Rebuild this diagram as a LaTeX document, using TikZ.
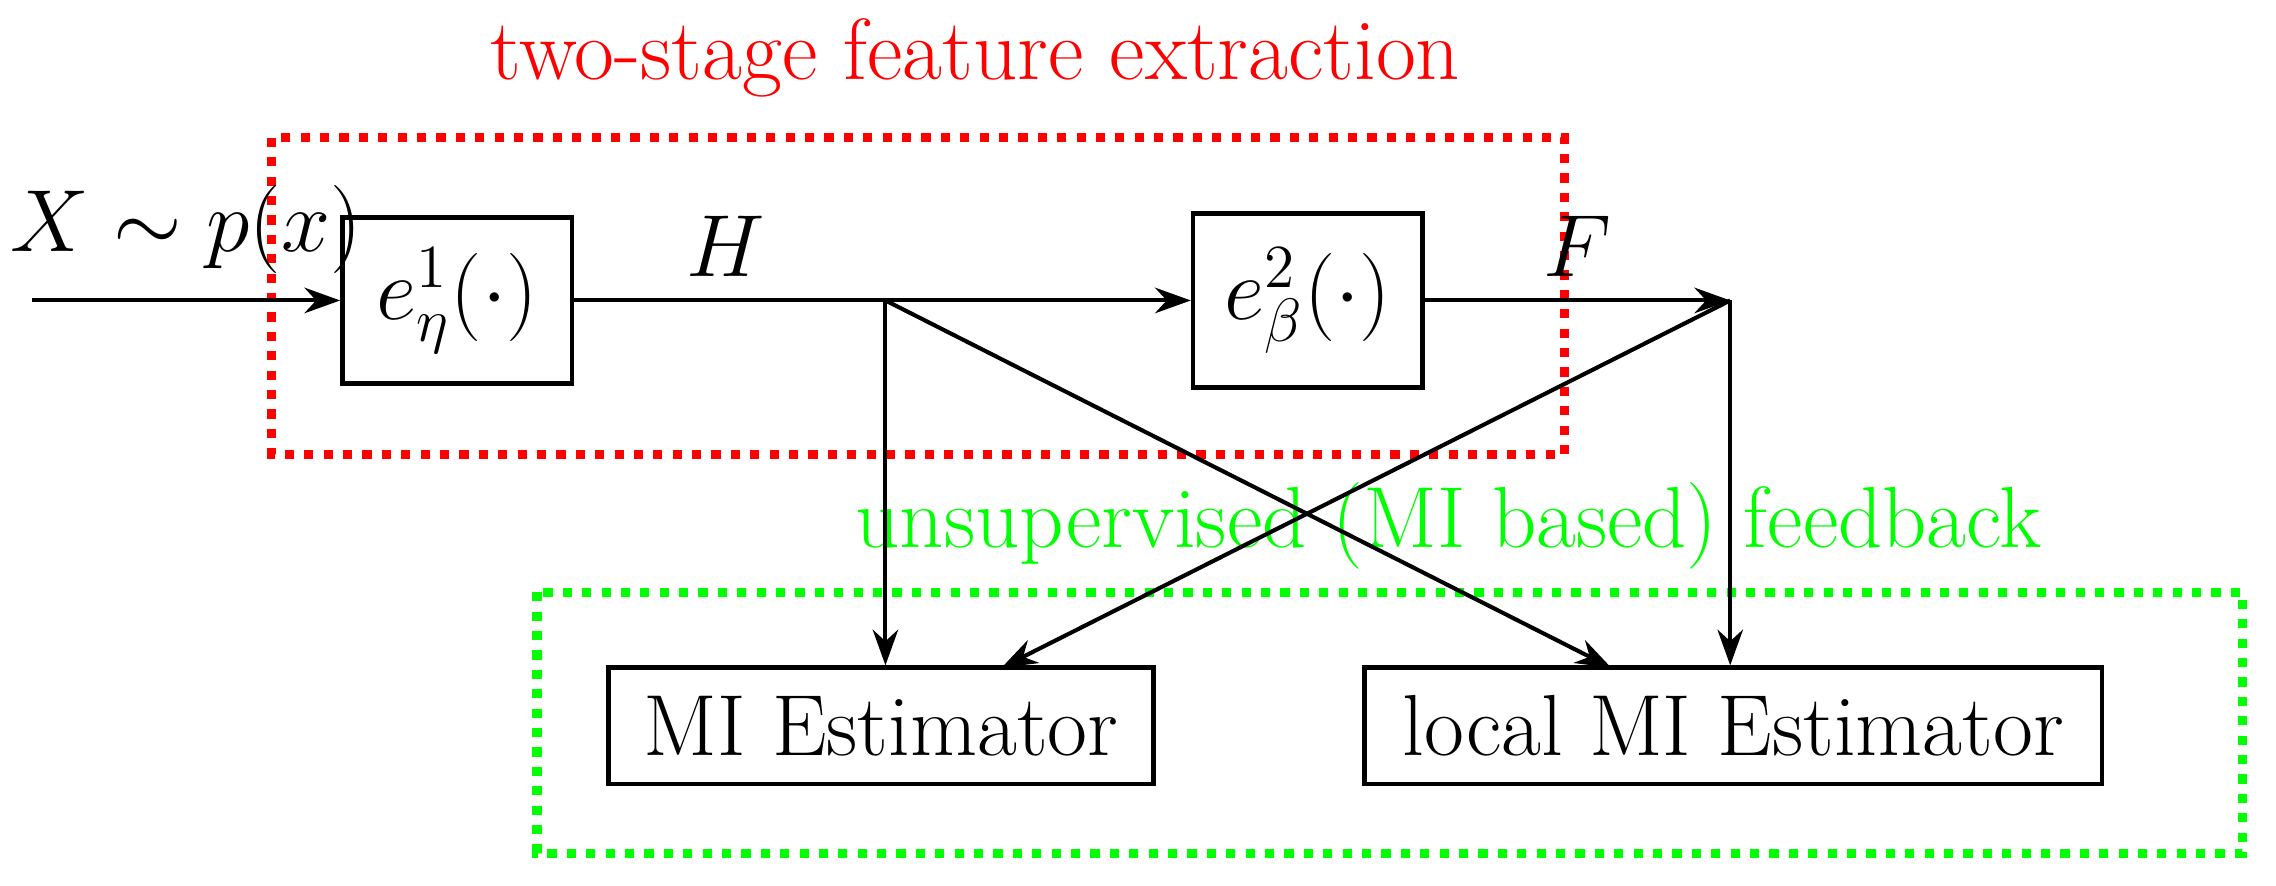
\documentclass[tikz,border=0pt]{standalone}
\usetikzlibrary{arrows.meta}
\begin{document}
\begin{tikzpicture}[x=0.01cm,y=-0.01cm,
  box/.style={draw,line width=0.9pt,inner sep=0pt,font=\fontsize{17}{20}\selectfont},
  ar/.style={line width=0.8pt,-{Stealth[length=7pt,width=5pt]}},
  ln/.style={line width=0.8pt},
  lab/.style={font=\fontsize{17}{20}\selectfont}]
\useasboundingbox (0,0) rectangle (1568,610);
\draw[red,dotted,line width=1.8pt] (187,95) rectangle (1078,313);
\draw[green,dotted,line width=1.8pt] (370,408) rectangle (1545,588);
\node[red,lab] (t1) at (672,40) {two-stage feature extraction};
\node[green,lab] (t2) at (998,362) {unsupervised (MI based) feedback};
\node[box,minimum width=1.58cm,minimum height=1.14cm] (e1) at (315,207) {$e^1_\eta(\cdot)$};
\node[box,minimum width=1.58cm,minimum height=1.2cm] (e2) at (901,207) {$e^2_\beta(\cdot)$};
\node[box,minimum width=3.75cm,minimum height=0.8cm] (m1) at (607,500) {MI Estimator};
\node[box,minimum width=5.08cm,minimum height=0.8cm] (m2) at (1194,500) {local MI Estimator};
\coordinate (in) at (22,207);
\coordinate (j1) at (610,207);
\coordinate (j2) at (1192,207);
\node[lab] (x) at (128,158) {$X\sim p(x)$};
\node[lab] (h) at (500,170) {$H$};
\node[lab] (f) at (1087,170) {$F$};
\draw[ar] (in) -- (e1.west);
\draw[ln] (e1.east) -- (j1);
\draw[ar] (j1) -- (e2.west);
\draw[ar] (e2.east) -- (j2);
\draw[ar] (j1) -- (m1.north -| j1);
\draw[ar] (j1) -- (1110,460);
\draw[ar] (j2) -- (m2.north -| j2);
\draw[ar] (j2) -- (690,460);
\end{tikzpicture}
\end{document}
